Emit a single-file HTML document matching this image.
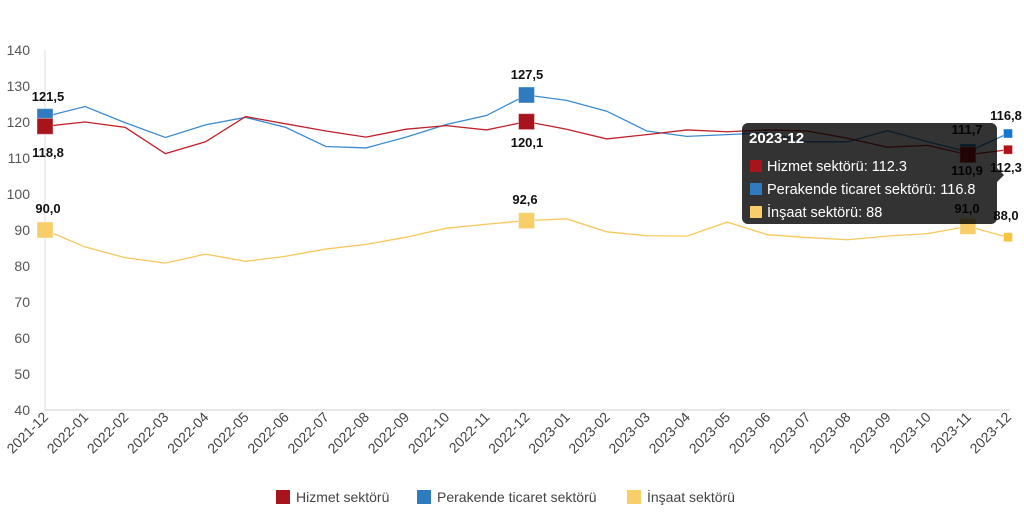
<!DOCTYPE html><html><head><meta charset="utf-8"><style>body{margin:0;background:#fff}svg{display:block;font-family:"Liberation Sans",sans-serif}</style></head><body>
<svg width="1024" height="520" viewBox="0 0 1024 520">
<g id="g"></g>
</svg>
<script>
const X=i=>45+i*40.125, Y=v=>50+(140-v)*3.6;
const R=[118.8,120,118.5,111.2,114.5,121.5,119.5,117.5,115.8,118,119,117.8,120.1,118,115.3,116.5,117.8,117.3,117.8,117.5,115.5,113,113.5,110.9,112.3];
const B=[121.5,124.3,119.8,115.7,119.2,121.3,118.5,113.2,112.8,115.8,119.3,121.8,127.5,126,123,117.5,116,116.5,117,114.5,114.5,117.6,114.5,111.7,116.8];
const Yl=[90,85.3,82.3,80.8,83.3,81.3,82.7,84.7,86,88,90.5,91.6,92.6,93.1,89.5,88.4,88.3,92.2,88.7,87.9,87.3,88.3,89,91,88];
let s='';
s+='<line x1="45" y1="50" x2="45" y2="410" stroke="#ddd"/><line x1="45" y1="410" x2="1010" y2="410" stroke="#ccc"/>';
for(let v=40;v<=140;v+=10)s+=`<text x="30" y="${Y(v)+5}" text-anchor="end" font-size="14" fill="#555">${v}</text>`;
const lab=['2021-12','2022-01','2022-02','2022-03','2022-04','2022-05','2022-06','2022-07','2022-08','2022-09','2022-10','2022-11','2022-12','2023-01','2023-02','2023-03','2023-04','2023-05','2023-06','2023-07','2023-08','2023-09','2023-10','2023-11','2023-12'];
lab.forEach((l,i)=>s+=`<text transform="translate(${X(i)+4},418) rotate(-45)" text-anchor="end" font-size="14" fill="#444">${l}</text>`);
const line=(d,c)=>`<polyline fill="none" stroke="${c}" stroke-width="1.3" points="${d.map((v,i)=>X(i)+','+Y(v)).join(' ')}"/>`;
s+=line(Yl,'#f7c95c')+line(B,'#3b8bd0')+line(R,'#c0212a');
const sq=(i,v,c,z)=>`<rect x="${X(i)-z/2}" y="${Y(v)-z/2}" width="${z}" height="${z}" fill="${c}" stroke="#fff" stroke-opacity=".4"/>`;
const T=(x,y,t)=>`<text x="${x}" y="${y}" text-anchor="middle" font-size="13" font-weight="bold" fill="#111">${t}</text>`;
[[0],[12]].forEach(([i])=>{s+=sq(i,Yl[i],'#f7ce6a',16)+sq(i,B[i],'#2e7bbf',16)+sq(i,R[i],'#a8141c',16);});
s+=sq(23,Yl[23],'#f7ce6a',16)+sq(23,B[23],'#2e7bbf',16)+sq(23,R[23],'#a8141c',16);
s+=sq(24,Yl[24],'#f8c33d',9)+sq(24,B[24],'#1577d0',9)+sq(24,R[24],'#b30f14',9);
s+=T(48,101,'121,5')+T(48,157,'118,8')+T(48,213,'90,0')+T(527,79,'127,5')+T(527,147,'120,1')+T(525,204,'92,6');
s+=T(967,134,'111,7')+T(967,175,'110,9')+T(967,213,'91,0')+T(1006,120,'116,8')+T(1006,172,'112,3')+T(1006,220,'88,0');
s+='<path d="M748,123 H991 a6 6 0 0 1 6 6 V168 L1004,175 L997,182 V218 a6 6 0 0 1 -6 6 H748 a6 6 0 0 1 -6 -6 V129 a6 6 0 0 1 6 -6Z" fill="rgba(0,0,0,0.8)"/>';
s+='<text x="749" y="143" font-size="15" font-weight="bold" fill="#fff">2023-12</text>';
[['#a8141c','Hizmet sektörü: 112.3'],['#2e7bbf','Perakende ticaret sektörü: 116.8'],['#f7ce6a','İnşaat sektörü: 88']].forEach((a,k)=>{s+=`<rect x="750" y="${160+k*23}" width="12" height="12" fill="${a[0]}"/><text x="767" y="${171+k*23}" font-size="14.5" fill="#fff">${a[1]}</text>`;});
[[276,'#a8141c','Hizmet sektörü'],[417,'#2e7bbf','Perakende ticaret sektörü'],[627,'#f7ce6a','İnşaat sektörü']].forEach(a=>{s+=`<rect x="${a[0]}" y="490" width="14" height="14" fill="${a[1]}"/><text x="${a[0]+20}" y="502" font-size="14" fill="#444">${a[2]}</text>`;});
document.getElementById('g').innerHTML=s;
</script>
</body></html>
